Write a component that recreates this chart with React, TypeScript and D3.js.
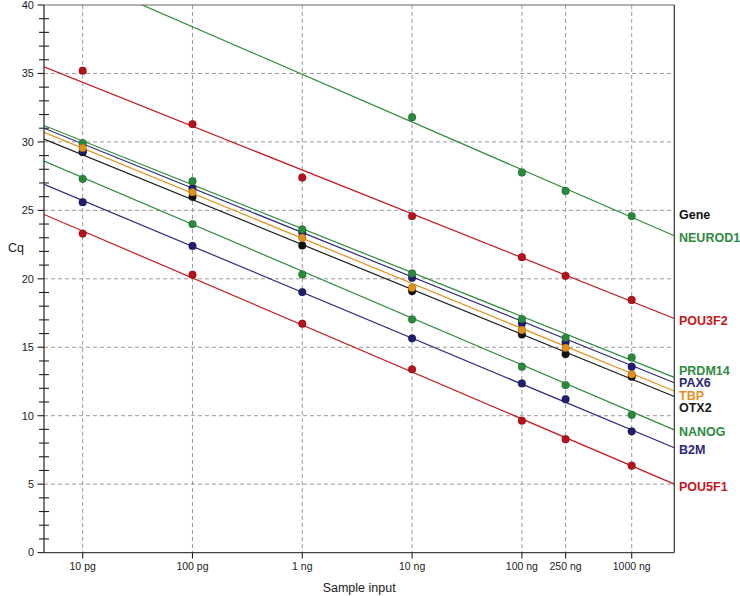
import React from "react";
import * as d3 from "d3";

const inputLabels = ["10 pg", "100 pg", "1 ng", "10 ng", "100 ng", "250 ng", "1000 ng"];
const inputPg = [10, 100, 1000, 1e4, 1e5, 2.5e5, 1e6];

const genes = ["NEUROD1", "POU3F2", "PRDM14", "PAX6", "TBP", "OTX2", "NANOG", "B2M", "POU5F1"];
const geneColors = ["#2e8b3f", "#c4161c", "#2e8b3f", "#2c2a7c", "#e3921f", "#1a1a1a", "#2e8b3f", "#2c2a7c", "#c4161c"];
const pointColors = ["#2a8a3c", "#b5121c", "#2a8a3c", "#221e6e", "#e0901c", "#111111", "#2a8a3c", "#221e6e", "#b5121c"];

const cqNEUROD1 = [null, null, null, 31.8, 27.77, 26.42, 24.58];
const cqPOU3F2 = [35.2, 31.3, 27.4, 24.58, 21.58, 20.22, 18.45];
const cqPRDM14 = [29.9, 27.13, 23.6, 20.39, 17.06, 15.69, 14.26];
const cqPAX6 = [29.32, 26.6, 23.36, 20.07, 16.74, 15.36, 13.58];
const cqTBP = [29.56, 26.33, 23.0, 19.34, 16.26, 14.96, 13.02];
const cqOTX2 = [29.25, 25.99, 22.44, 19.1, 15.94, 14.5, 12.85];
const cqNANOG = [27.3, 24.0, 20.32, 17.04, 13.58, 12.24, 10.07];
const cqB2M = [25.6, 22.4, 19.03, 15.65, 12.36, 11.2, 8.86];
const cqPOU5F1 = [23.3, 20.3, 16.72, 13.39, 9.64, 8.28, 6.35];
const cqSeries = [cqNEUROD1, cqPOU3F2, cqPRDM14, cqPAX6, cqTBP, cqOTX2, cqNANOG, cqB2M, cqPOU5F1];

// fitted standard curve values at 10 pg and at 1000 ng
const fitAt10pg = [41.89, 34.35, 30.07, 29.86, 29.54, 29.05, 27.4, 25.72, 23.49];
const fitAt1000ng = [24.49, 18.34, 14.04, 13.66, 13.08, 12.67, 10.29, 8.96, 6.33];

const yMajorTicks = [0, 5, 10, 15, 20, 25, 30, 35, 40];
const pointDrawOrder = [8, 7, 6, 5, 3, 2, 4, 1, 0];

const FONT = "'Liberation Sans', Arial, Helvetica, sans-serif";

export default function App() {
  const W = 740, H = 596;
  const left = 44, right = 674.3, top = 5, bottom = 552.6;
  const x = d3.scaleLog().domain([4.443, 2.443e6]).range([left, right]);
  const y = d3.scaleLinear().domain([0, 40]).range([bottom, top]);
  const xd = x.domain();

  const fitAt = (i: number, pg: number) => {
    const t = (Math.log10(pg) - 1) / 5;
    return fitAt10pg[i] + (fitAt1000ng[i] - fitAt10pg[i]) * t;
  };

  // label positions: end-of-line value, de-overlapped
  const raw = genes.map((g, i) => ({ i, y: y(fitAt(i, xd[1])) }));
  raw.sort((a, b) => a.y - b.y);
  const gap = 12.3;
  type Cl = { items: { i: number; y: number }[]; start: number };
  let clusters: Cl[] = raw.map((r) => ({ items: [r], start: r.y }));
  let changed = true;
  const center = (c: Cl) => {
    const m = d3.mean(c.items, (d) => d.y) as number;
    c.start = m - ((c.items.length - 1) * gap) / 2;
  };
  while (changed) {
    changed = false;
    for (let k = 0; k < clusters.length - 1; k++) {
      const a = clusters[k], b = clusters[k + 1];
      const aEnd = a.start + (a.items.length - 1) * gap;
      if (b.start - aEnd < gap) {
        const merged: Cl = { items: [...a.items, ...b.items], start: 0 };
        center(merged);
        clusters.splice(k, 2, merged);
        changed = true;
        break;
      }
    }
  }
  const labelY: number[] = [];
  clusters.forEach((c) => c.items.forEach((it, j) => (labelY[it.i] = c.start + j * gap + 6.5)));

  const minor = d3.range(0, 41).filter((v) => v % 5 !== 0);

  return (
    <svg width={W} height={H} style={{ position: "absolute", left: 0, top: 0, background: "#fff" }} fontFamily={FONT}>
      <defs>
        <clipPath id="plot">
          <rect x={left} y={top} width={right - left} height={bottom - top} />
        </clipPath>
      </defs>
      {/* grid */}
      {yMajorTicks
        .filter((v) => v > 0 && v < 40)
        .map((v) => (
          <line key={"gy" + v} x1={left} x2={right} y1={y(v)} y2={y(v)} stroke="#9a9a9a" strokeDasharray="4,3" />
        ))}
      {inputPg.map((pg, k) => (
        <line key={"gx" + k} x1={x(pg)} x2={x(pg)} y1={top} y2={bottom} stroke="#9a9a9a" strokeDasharray="4,3" />
      ))}
      {/* fit lines */}
      <g clipPath="url(#plot)">
        {genes.map((g, i) => (
          <line
            key={"l" + g}
            x1={x(xd[0])}
            x2={x(xd[1])}
            y1={y(fitAt(i, xd[0]))}
            y2={y(fitAt(i, xd[1]))}
            stroke={geneColors[i]}
            strokeWidth={1.2}
          />
        ))}
      </g>
      {/* points */}
      <g>
        {pointDrawOrder.map((i) =>
          cqSeries[i].map((v, k) =>
            v == null ? null : (
              <circle
                key={genes[i] + k}
                cx={x(inputPg[k])}
                cy={y(v as number)}
                r={3.9}
                fill={pointColors[i]}
                stroke="rgba(0,0,0,0.3)"
                strokeWidth={0.6}
              />
            )
          )
        )}
      </g>
      {/* frame */}
      <line x1={left} x2={right} y1={top} y2={top} stroke="#666" strokeWidth={1} />
      <line x1={right} x2={right} y1={top} y2={bottom} stroke="#333" strokeWidth={1.2} />
      <line x1={left} x2={right} y1={bottom} y2={bottom} stroke="#444" strokeWidth={1.2} />
      <line x1={left} x2={left} y1={top} y2={bottom} stroke="#222" strokeWidth={1.2} />
      {/* y ticks */}
      {minor.map((v) => (
        <line key={"mt" + v} x1={39} x2={49} y1={y(v)} y2={y(v)} stroke="#222" strokeWidth={1.1} />
      ))}
      {yMajorTicks.map((v) => (
        <g key={"yt" + v}>
          <line x1={37.5} x2={left} y1={y(v)} y2={y(v)} stroke="#222" strokeWidth={1.1} />
          <text x={34} y={y(v) + 3.8} fontSize={11} textAnchor="end" fill="#222">
            {v}
          </text>
        </g>
      ))}
      {/* x ticks */}
      {inputPg.map((pg, k) => (
        <g key={"xt" + k}>
          <line x1={x(pg)} x2={x(pg)} y1={bottom} y2={bottom + 6} stroke="#222" strokeWidth={1.1} />
          <text x={x(pg)} y={570} fontSize={10.5} textAnchor="middle" fill="#222">
            {inputLabels[k]}
          </text>
        </g>
      ))}
      <text x={(left + right) / 2} y={591.5} fontSize={12.5} textAnchor="middle" fill="#222">
        Sample input
      </text>
      <text x={8} y={252} fontSize={12.5} fill="#222">
        Cq
      </text>
      {/* legend labels */}
      <text x={679} y={labelY[0] - 23} fontSize={12.5} fontWeight="bold" fill="#111">
        Gene
      </text>
      {genes.map((g, i) => (
        <text key={"lab" + g} x={679} y={labelY[i]} fontSize={12.5} fontWeight="bold" fill={geneColors[i]}>
          {g}
        </text>
      ))}
    </svg>
  );
}
